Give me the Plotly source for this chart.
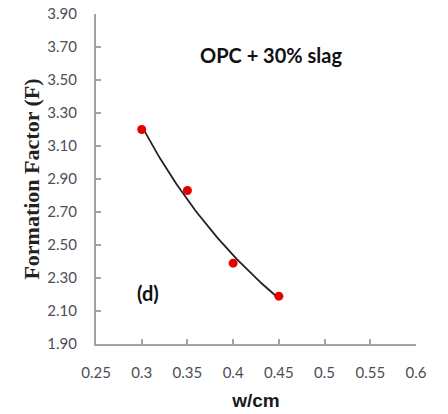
import numpy as np
import plotly.graph_objects as go

wcm = [0.30, 0.35, 0.40, 0.45]
formation_factor = [3.20, 2.83, 2.39, 2.19]
x_ticks = [0.25, 0.3, 0.35, 0.4, 0.45, 0.5, 0.55, 0.6]
x_tick_text = ["0.25", "0.3", "0.35", "0.4", "0.45", "0.5", "0.55", "0.6"]
y_ticks = [1.9, 2.1, 2.3, 2.5, 2.7, 2.9, 3.1, 3.3, 3.5, 3.7, 3.9]
y_tick_text = ["1.90", "2.10", "2.30", "2.50", "2.70", "2.90", "3.10", "3.30", "3.50", "3.70", "3.90"]

# power-law trendline fitted to the data (like a spreadsheet trendline)
b, ln_a = np.polyfit(np.log(wcm), np.log(formation_factor), 1)
xf = np.linspace(min(wcm), max(wcm), 60)
yf = np.exp(ln_a) * xf ** b

fig = go.Figure()
fig.add_trace(go.Scatter(x=xf, y=yf, mode="lines",
                         line=dict(color="#222222", width=1.8), hoverinfo="skip"))
fig.add_trace(go.Scatter(x=wcm, y=formation_factor, mode="markers",
                         marker=dict(color="#e60000", size=9)))

axis_common = dict(showgrid=False, zeroline=False, showline=True, automargin=False,
                   linecolor="#a8a29c", linewidth=2, ticks="inside",
                   ticklen=5, tickcolor="#a8a29c", tickwidth=1.5,
                   tickfont=dict(family="Lato", size=15, color="#4d4d55"))

fig.update_xaxes(range=[0.25, 0.6], tickvals=x_ticks, ticktext=x_tick_text,
                 ticklabelstandoff=14,
                 title=dict(text="<b>w/cm</b>", font=dict(family="Arial", size=19, color="#1a1a1a"), standoff=14),
                 **axis_common)
fig.update_yaxes(range=[1.9, 3.9], tickvals=y_ticks, ticktext=y_tick_text,
                 ticklabelstandoff=14,
                 title=dict(text="<b>Formation Factor (F)</b>",
                            font=dict(family="Liberation Serif", size=22, color="#222222"), standoff=2),
                 **axis_common)

fig.add_annotation(x=0.441, y=3.65, xref="x", yref="y", text="<b>OPC + 30% slag</b>",
                   showarrow=False, font=dict(family="Lato", size=20, color="#111111"))
fig.add_annotation(x=0.307, y=2.21, xref="x", yref="y", text="<b>(d)</b>",
                   showarrow=False, font=dict(family="Lato", size=20, color="#111111"))

fig.update_layout(width=448, height=414, showlegend=False,
                  margin=dict(l=96, r=32, t=14, b=70),
                  plot_bgcolor="white", paper_bgcolor="white")

fig.write_html("out.html")
